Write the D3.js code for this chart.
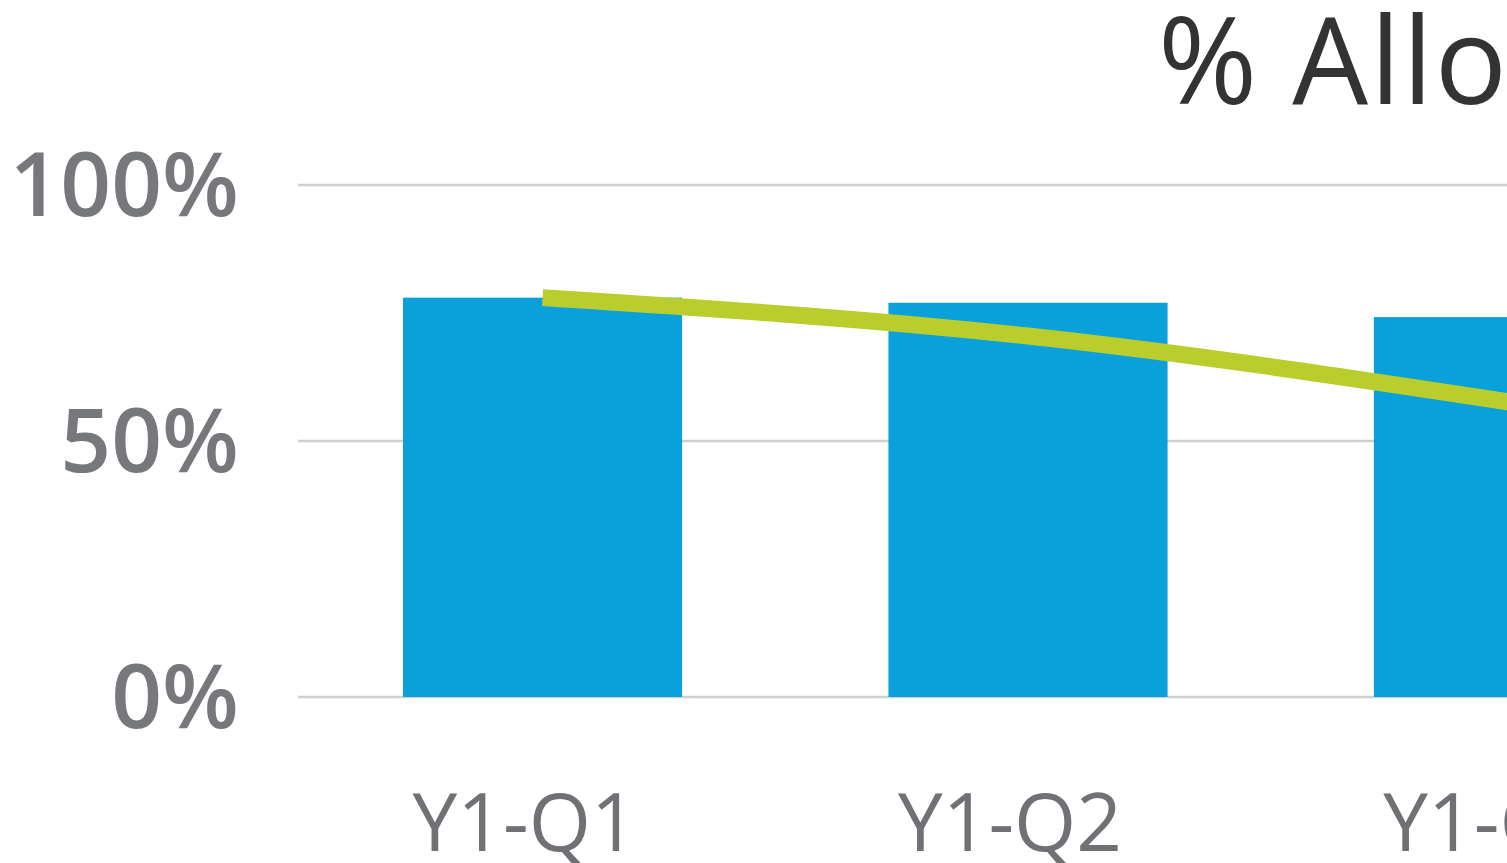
<!DOCTYPE html>
<html>
<head>
<meta charset="utf-8">
<script src="https://cdn.jsdelivr.net/npm/d3@7"></script>
<style>
  html, body { margin: 0; padding: 0; background: #fff; overflow: hidden; }
  svg { display: block; }
</style>
</head>
<body>
<svg id="chart" width="1507" height="863"></svg>
<script>
// Quarterly data
const categories = ["Y1-Q1", "Y1-Q2", "Y1-Q3"];
const barValues = [0.78, 0.77, 0.742];
const lineValues = [0.78, 0.705, 0.575];
const yTicks = [0, 0.5, 1];
const titleText = "% Allowed Claims";

const svg = d3.select("#chart");

const y = d3.scaleLinear().domain([0, 1]).range([697, 185]);

const x = d3.scaleBand()
  .domain(categories)
  .range([298, 1758])
  .paddingInner(0.425)
  .paddingOuter(0.2163);

// gridlines
svg.append("g")
  .selectAll("line")
  .data(yTicks)
  .join("line")
  .attr("x1", 298)
  .attr("x2", 1507)
  .attr("y1", d => y(d))
  .attr("y2", d => y(d))
  .attr("stroke", "#d0d0d0")
  .attr("stroke-width", 2.5);

// y tick labels
svg.append("g")
  .selectAll("text")
  .data(yTicks)
  .join("text")
  .attr("x", 239)
  .attr("y", d => y(d) + 31)
  .attr("text-anchor", "end")
  .attr("font-family", "'Open Sans', sans-serif")
  .attr("font-weight", 600)
  .attr("font-size", 89)
  .attr("fill", "#77787b")
  .text(d3.format(".0%"));

// bars
svg.append("g")
  .selectAll("rect")
  .data(categories)
  .join("rect")
  .attr("x", d => x(d))
  .attr("width", x.bandwidth())
  .attr("y", (d, i) => y(barValues[i]))
  .attr("height", (d, i) => y(0) - y(barValues[i]))
  .attr("fill", "#0aa1db");

// smoothed trend line
const line = d3.line()
  .x((d, i) => x(categories[i]) + x.bandwidth() / 2)
  .y(d => y(d))
  .curve(d3.curveNatural);

svg.append("path")
  .datum(lineValues)
  .attr("d", line)
  .attr("fill", "none")
  .attr("stroke", "#b9ce2c")
  .attr("stroke-width", 17)
  .attr("stroke-linecap", "butt");

// category labels
svg.append("g")
  .selectAll("text")
  .data(categories)
  .join("text")
  .attr("x", d => x(d) + x.bandwidth() / 2 - 18)
  .attr("y", 851)
  .attr("text-anchor", "middle")
  .attr("font-family", "'Open Sans', sans-serif")
  .attr("font-size", 80)
  .attr("fill", "#707175")
  .text(d => d);

// title
svg.append("text")
  .attr("x", 1158)
  .attr("y", 104)
  .attr("font-family", "'Open Sans', sans-serif")
  .attr("font-size", 120)
  .attr("letter-spacing", 2)
  .attr("fill", "#333333")
  .text(titleText);
</script>
</body>
</html>
